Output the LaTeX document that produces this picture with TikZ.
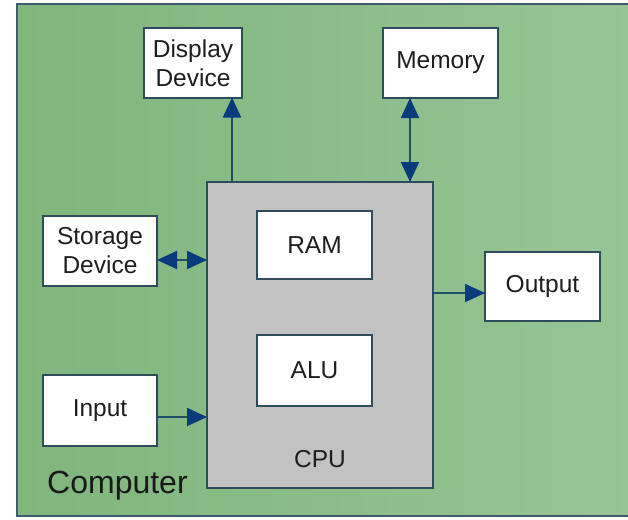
\documentclass[tikz,border=0pt]{standalone}
\usepackage{fontspec}
\setmainfont{Liberation Sans}
\usetikzlibrary{arrows.meta,calc}
\definecolor{frameline}{HTML}{3D5B68}
\definecolor{boxline}{HTML}{2E4C5C}
\definecolor{greenL}{HTML}{80B57C}
\definecolor{greenR}{HTML}{98C596}
\definecolor{cpufill}{HTML}{C2C2C2}
\definecolor{conline}{HTML}{1D4E63}
\definecolor{tipfill}{HTML}{0A3C7D}
\definecolor{txt}{HTML}{1E1E1E}
\tikzset{
  box/.style={draw=boxline, line width=2pt, fill=white, rectangle, inner sep=0pt,
    outer sep=0pt, text=txt, font=\fontsize{24.5}{29}\selectfont, align=center},
  conn/.style={draw=conline, line width=2pt,
    -{Triangle[length=20pt,width=18pt,fill=tipfill,color=tipfill]}},
  dconn/.style={draw=conline, line width=2pt,
    {Triangle[length=20pt,width=18pt,fill=tipfill,color=tipfill]}-{Triangle[length=20pt,width=18pt,fill=tipfill,color=tipfill]}},
}
\begin{document}
\begin{tikzpicture}[x=1pt,y=-1pt]
\useasboundingbox (0,0) rectangle (628,519);
\begin{scope}
\clip (0,0) rectangle (628,519);
\shade[left color=greenL, right color=greenR] (17,4) rectangle (640,516);
\draw[frameline, line width=2.5pt] (17,4) rectangle (640,516);
\end{scope}

\node[box, fill=cpufill, minimum width=226pt, minimum height=306pt] (cpu) at (320,335) {};
\node[box, minimum width=115pt, minimum height=68pt] (ram) at (314.5,245) {RAM};
\node[box, minimum width=115pt, minimum height=71pt] (alu) at (314.5,370.5) {ALU};
\node[anchor=base, text=txt, font=\fontsize{24.5}{29}\selectfont] (cpulbl) at (320,467) {CPU};

\node[box, minimum width=98pt, minimum height=69pt] (disp) at (193,63) {Display\\Device};
\node[box, minimum width=115pt, minimum height=70pt] (mem) at (440.5,63) {Memory};
\node[box, minimum width=114pt, minimum height=70pt] (stor) at (100,251) {Storage\\Device};
\node[box, minimum width=114pt, minimum height=71pt] (inp) at (100,410.5) {Input};
\node[box, minimum width=115pt, minimum height=69pt] (out) at (542.5,286.5) {Output};

\node[anchor=base west, inner sep=0pt, text=black!90, font=\fontsize{32}{36}\selectfont] (comp) at (47,493) {Computer};

\coordinate (dispfoot) at ($(cpu.north west)+(25,0)$);
\coordinate (memfoot) at ($(cpu.north east)+(-23,0)$);
\draw[conn] (dispfoot) -- (dispfoot |- disp.south);
\draw[dconn] (memfoot |- mem.south) -- (memfoot);
\coordinate (storend) at ($(stor.east)+(0,9)$);
\draw[dconn] (storend) -- (storend -| cpu.west);
\coordinate (inpend) at ($(inp.east)+(0,6.5)$);
\draw[conn] (inpend) -- (inpend -| cpu.west);
\coordinate (outend) at ($(out.west)+(0,6.5)$);
\draw[conn] (outend -| cpu.east) -- (outend);
\end{tikzpicture}
\end{document}
